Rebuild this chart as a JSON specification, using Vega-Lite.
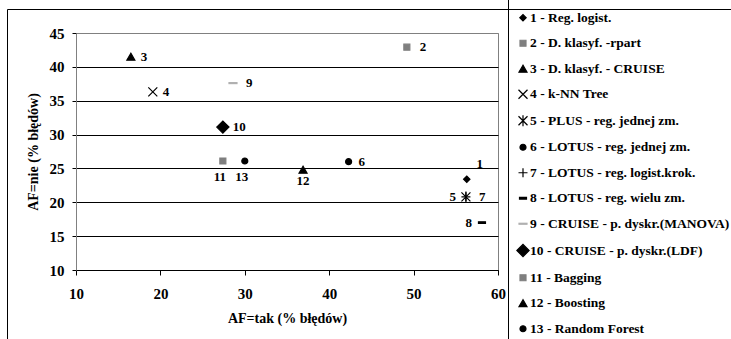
{
  "$schema": "https://vega.github.io/schema/vega-lite/v6.json",
  "width": 422,
  "height": 237,
  "autosize": {"type": "none"},
  "padding": {"left": 76, "top": 33, "right": 233, "bottom": 69},
  "background": "white",
  "config": {
    "font": "Liberation Serif, Times New Roman, serif",
    "view": {"stroke": "#808080", "strokeWidth": 1},
    "legend": {
      "orient": "none",
      "legendX": 432,
      "legendY": -34,
      "padding": 12,
      "strokeColor": "black",
      "symbolOffset": -4,
      "labelOffset": 0,
      "rowPadding": 10.5,
      "labelFont": "Liberation Serif, Times New Roman, serif",
      "labelFontSize": 13.5,
      "labelFontWeight": "bold",
      "labelColor": "black",
      "labelLimit": 400,
      "symbolStrokeWidth": 1.2
    }
  },
  "data": {
    "values": [
      {"id": 1, "method": "1 - Reg. logist.", "x": 56.3, "y": 23.4},
      {"id": 2, "method": "2 - D. klasyf. -rpart", "x": 49.2, "y": 42.9},
      {"id": 3, "method": "3 - D. klasyf. - CRUISE", "x": 16.5, "y": 41.5},
      {"id": 4, "method": "4 - k-NN Tree", "x": 19.1, "y": 36.3},
      {"id": 5, "method": "5 - PLUS - reg. jednej zm.", "x": 56.2, "y": 20.8},
      {"id": 6, "method": "6 - LOTUS - reg. jednej zm.", "x": 42.3, "y": 26.0},
      {"id": 7, "method": "7 - LOTUS - reg. logist.krok.", "x": 56.2, "y": 20.8},
      {"id": 8, "method": "8 - LOTUS - reg. wielu zm.", "x": 58.1, "y": 17.0},
      {"id": 9, "method": "9 - CRUISE - p. dyskr.(MANOVA)", "x": 28.6, "y": 37.6},
      {"id": 10, "method": "10 - CRUISE - p. dyskr.(LDF)", "x": 27.4, "y": 31.1},
      {"id": 11, "method": "11 - Bagging", "x": 27.4, "y": 26.1},
      {"id": 12, "method": "12 - Boosting", "x": 36.9, "y": 24.8},
      {"id": 13, "method": "13 - Random Forest", "x": 30.0, "y": 26.1}
    ]
  },
  "encoding": {
    "x": {
      "field": "x", "type": "quantitative",
      "scale": {"domain": [10, 60], "nice": false, "zero": false},
      "axis": {
        "values": [10, 20, 30, 40, 50, 60],
        "title": "AF=tak (% błędów)",
        "grid": false,
        "domainColor": "black",
        "tickColor": "black",
        "tickSize": 5,
        "labelFlush": false,
        "labelFont": "Liberation Serif, Times New Roman, serif",
        "labelFontSize": 15,
        "labelFontWeight": "bold",
        "labelColor": "black",
        "labelPadding": 11,
        "titleFont": "Liberation Serif, Times New Roman, serif",
        "titleFontSize": 14,
        "titleFontWeight": "bold",
        "titleColor": "black",
        "titlePadding": 10
      }
    },
    "y": {
      "field": "y", "type": "quantitative",
      "scale": {"domain": [10, 45], "nice": false, "zero": false},
      "axis": {
        "values": [10, 15, 20, 25, 30, 35, 40, 45],
        "title": "AF=nie (% błędów)",
        "grid": true,
        "gridColor": {"condition": {"test": "datum.value == 45", "value": "#808080"}, "value": "black"},
        "gridOpacity": 1,
        "domainColor": "#808080",
        "tickColor": "black",
        "tickSize": 4,
        "labelFont": "Liberation Serif, Times New Roman, serif",
        "labelFontSize": 15,
        "labelFontWeight": "bold",
        "labelColor": "black",
        "labelPadding": 8,
        "titleFont": "Liberation Serif, Times New Roman, serif",
        "titleFontSize": 14,
        "titleFontWeight": "bold",
        "titleColor": "black",
        "titlePadding": 9
      }
    }
  },
  "layer": [
    {
      "mark": {"type": "point", "opacity": 1, "strokeWidth": 1.2, "filled": false},
      "encoding": {
        "shape": {
          "field": "method", "type": "nominal",
          "scale": {
            "domain": ["1 - Reg. logist.", "2 - D. klasyf. -rpart", "3 - D. klasyf. - CRUISE", "4 - k-NN Tree", "5 - PLUS - reg. jednej zm.", "6 - LOTUS - reg. jednej zm.", "7 - LOTUS - reg. logist.krok.", "8 - LOTUS - reg. wielu zm.", "9 - CRUISE - p. dyskr.(MANOVA)", "10 - CRUISE - p. dyskr.(LDF)", "11 - Bagging", "12 - Boosting", "13 - Random Forest"],
            "range": ["diamond", "square", "triangle-up", "M-1,-1L1,1M-1,1L1,-1", "M-1,-1L1,1M-1,1L1,-1M0,-1.2L0,1.2", "circle", "M-1,0L1,0M0,-1L0,1", "M-1,-0.25L1,-0.25L1,0.25L-1,0.25Z", "M-1,-0.12L1,-0.12L1,0.12L-1,0.12Z", "diamond", "square", "triangle-up", "circle"]
          },
          "legend": {"title": null}
        },
        "fill": {
          "field": "method", "type": "nominal",
          "scale": {
            "domain": ["1 - Reg. logist.", "2 - D. klasyf. -rpart", "3 - D. klasyf. - CRUISE", "4 - k-NN Tree", "5 - PLUS - reg. jednej zm.", "6 - LOTUS - reg. jednej zm.", "7 - LOTUS - reg. logist.krok.", "8 - LOTUS - reg. wielu zm.", "9 - CRUISE - p. dyskr.(MANOVA)", "10 - CRUISE - p. dyskr.(LDF)", "11 - Bagging", "12 - Boosting", "13 - Random Forest"],
            "range": ["black", "#7f7f7f", "black", "transparent", "transparent", "black", "transparent", "black", "#b0b0b0", "black", "#7f7f7f", "black", "black"]
          },
          "legend": {"title": null}
        },
        "stroke": {
          "field": "method", "type": "nominal",
          "scale": {
            "domain": ["1 - Reg. logist.", "2 - D. klasyf. -rpart", "3 - D. klasyf. - CRUISE", "4 - k-NN Tree", "5 - PLUS - reg. jednej zm.", "6 - LOTUS - reg. jednej zm.", "7 - LOTUS - reg. logist.krok.", "8 - LOTUS - reg. wielu zm.", "9 - CRUISE - p. dyskr.(MANOVA)", "10 - CRUISE - p. dyskr.(LDF)", "11 - Bagging", "12 - Boosting", "13 - Random Forest"],
            "range": ["black", "#7f7f7f", "black", "black", "black", "black", "black", "black", "#b0b0b0", "black", "#7f7f7f", "black", "black"]
          },
          "legend": {"title": null}
        },
        "size": {
          "field": "method", "type": "nominal",
          "scale": {
            "type": "ordinal",
            "domain": ["1 - Reg. logist.", "2 - D. klasyf. -rpart", "3 - D. klasyf. - CRUISE", "4 - k-NN Tree", "5 - PLUS - reg. jednej zm.", "6 - LOTUS - reg. jednej zm.", "7 - LOTUS - reg. logist.krok.", "8 - LOTUS - reg. wielu zm.", "9 - CRUISE - p. dyskr.(MANOVA)", "10 - CRUISE - p. dyskr.(LDF)", "11 - Bagging", "12 - Boosting", "13 - Random Forest"],
            "range": [40, 36, 64, 81, 81, 36, 81, 49, 64, 150, 36, 64, 36]
          },
          "legend": {"title": null}
        },
        "opacity": {
          "datum": "frame", "type": "nominal",
          "scale": {"type": "ordinal", "domain": ["frame"], "range": [1]},
          "legend": {
            "title": null,
            "orient": "none",
            "legendX": -69,
            "legendY": -24,
            "padding": 0,
            "strokeColor": "black",
            "fillColor": "transparent",
            "symbolType": "square",
            "symbolSize": 1000000,
            "symbolOffset": 0,
            "symbolFillColor": "transparent",
            "symbolStrokeColor": "transparent",
            "symbolOpacity": 0,
            "labelOpacity": 0,
            "encode": {
              "symbols": {"update": {"opacity": {"value": 0}, "fill": {"value": "transparent"}, "stroke": {"value": "transparent"}, "fillOpacity": {"value": 0}, "strokeOpacity": {"value": 0}}},
              "labels": {"update": {"opacity": {"value": 0}}}
            }
          }
        }
      }
    },
    {
      "transform": [{"filter": {"field": "id", "oneOf": [3, 4, 6, 10]}}],
      "mark": {"type": "text", "align": "left", "baseline": "middle", "dx": 10, "font": "Liberation Serif, Times New Roman, serif", "fontWeight": "bold", "fontSize": 13, "color": "black"},
      "encoding": {"text": {"field": "id", "type": "nominal"}}
    },
    {
      "transform": [{"filter": {"field": "id", "oneOf": [2, 7, 9]}}],
      "mark": {"type": "text", "align": "left", "baseline": "middle", "dx": 13, "font": "Liberation Serif, Times New Roman, serif", "fontWeight": "bold", "fontSize": 13, "color": "black"},
      "encoding": {"text": {"field": "id", "type": "nominal"}}
    },
    {
      "transform": [{"filter": {"field": "id", "oneOf": [5, 8]}}],
      "mark": {"type": "text", "align": "right", "baseline": "middle", "dx": -10, "font": "Liberation Serif, Times New Roman, serif", "fontWeight": "bold", "fontSize": 13, "color": "black"},
      "encoding": {"text": {"field": "id", "type": "nominal"}}
    },
    {
      "transform": [{"filter": {"field": "id", "oneOf": [11, 13]}}],
      "mark": {"type": "text", "align": "center", "baseline": "middle", "dx": -3, "dy": 16, "font": "Liberation Serif, Times New Roman, serif", "fontWeight": "bold", "fontSize": 13, "color": "black"},
      "encoding": {"text": {"field": "id", "type": "nominal"}}
    },
    {
      "transform": [{"filter": {"field": "id", "oneOf": [12]}}],
      "mark": {"type": "text", "align": "center", "baseline": "middle", "dy": 11, "font": "Liberation Serif, Times New Roman, serif", "fontWeight": "bold", "fontSize": 13, "color": "black"},
      "encoding": {"text": {"field": "id", "type": "nominal"}}
    },
    {
      "transform": [{"filter": {"field": "id", "oneOf": [1]}}],
      "mark": {"type": "text", "align": "center", "baseline": "middle", "dx": 13, "dy": -15, "font": "Liberation Serif, Times New Roman, serif", "fontWeight": "bold", "fontSize": 13, "color": "black"},
      "encoding": {"text": {"field": "id", "type": "nominal"}}
    }
  ]
}
